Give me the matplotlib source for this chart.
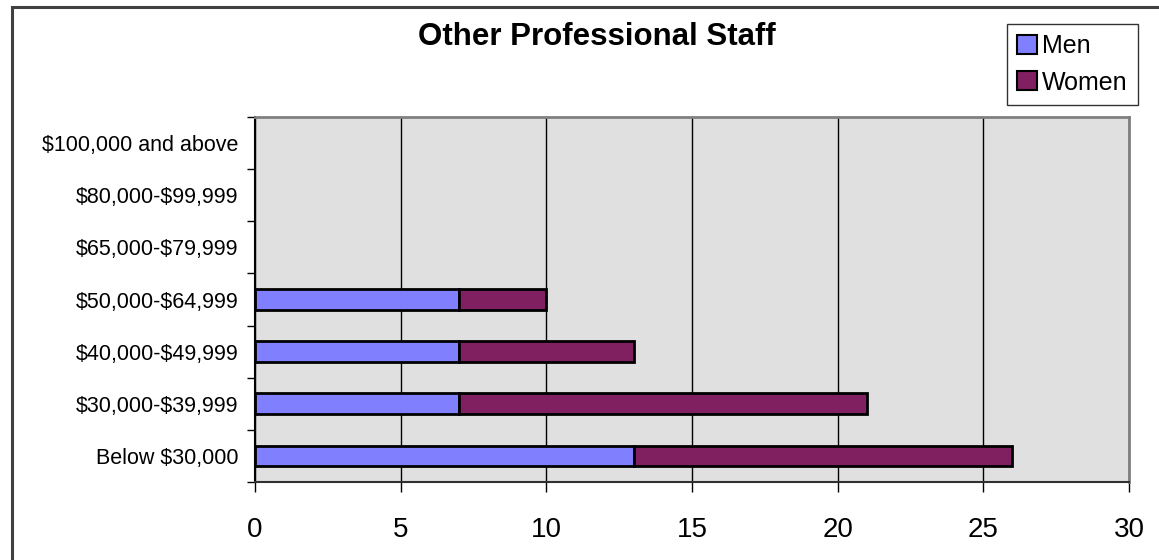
import matplotlib
matplotlib.use("Agg")
import matplotlib.pyplot as plt
from matplotlib.patches import Rectangle, Patch
import numpy as np

categories = ["Below $30,000", "$30,000-$39,999", "$40,000-$49,999",
              "$50,000-$64,999", "$65,000-$79,999", "$80,000-$99,999",
              "$100,000 and above"]
men = [13, 7, 7, 7, 0, 0, 0]
women = [13, 14, 6, 3, 0, 0, 0]
x_ticks = [0, 5, 10, 15, 20, 25, 30]
title = "Other Professional Staff"

plt.rcParams['font.family'] = ['Liberation Sans', 'DejaVu Sans']
plt.rcParams['text.parse_math'] = False

W, H = 1159, 560
fig = plt.figure(figsize=(W / 100, H / 100), dpi=100)
fig.patch.set_facecolor('white')

# outer chart border (right/bottom run off the image)
fig.patches.append(Rectangle((11.5 / W, -0.2), 2.0, 1.2 - 6.5 / H,
                             transform=fig.transFigure, fill=False,
                             edgecolor='#404040', linewidth=2.2, zorder=0))

left, right, top, bottom = 255, 1129, 117, 482
ax = fig.add_axes([left / W, 1 - bottom / H, (right - left) / W, (bottom - top) / H])
ax.set_facecolor('#E0E0E0')

y = np.arange(len(categories))
men_lw = [2 if v > 0 else 0 for v in men]
women_lw = [2 if v > 0 else 0 for v in women]
ax.barh(y, men, height=0.4, color='#8080FF', edgecolor='black', linewidth=men_lw,
        label='Men', zorder=3)
ax.barh(y, women, left=men, height=0.4, color='#802060', edgecolor='black',
        linewidth=women_lw, label='Women', zorder=3)

ax.set_xlim(0, 30)
ax.set_ylim(-0.5, len(categories) - 0.5)
ax.set_xticks(x_ticks)
ax.set_xticklabels([str(t) for t in x_ticks], fontsize=20)
ax.tick_params(axis='x', direction='out', length=7.5, width=1, color='black', pad=18)

ax.set_yticks(np.arange(-0.5, len(categories), 1.0))
ax.set_yticklabels([])
ax.tick_params(axis='y', which='major', direction='out', length=5.5, width=1, color='black')
ax.set_yticks(y, minor=True)
ax.set_yticklabels(categories, minor=True, fontsize=15.5)
ax.tick_params(axis='y', which='minor', length=0, pad=12)

ax.xaxis.grid(True, color='black', linewidth=1)
ax.yaxis.grid(False)
ax.set_axisbelow(True)

ax.spines['left'].set_color('black')
ax.spines['left'].set_linewidth(1.5)
ax.spines['bottom'].set_color('#303030')
ax.spines['bottom'].set_linewidth(1.5)
ax.spines['top'].set_color('#808080')
ax.spines['top'].set_linewidth(2)
ax.spines['right'].set_color('#808080')
ax.spines['right'].set_linewidth(2)

fig.text(597 / W, 1 - 45 / H, title, ha='center', va='baseline',
         fontsize=22.5, fontweight='bold')

handles = [Patch(facecolor='#8080FF', edgecolor='black', linewidth=1.5),
           Patch(facecolor='#802060', edgecolor='black', linewidth=1.5)]
leg = fig.legend(handles, ['Men', 'Women'], loc='upper right',
                 bbox_to_anchor=(1138 / W, 1 - 24 / H), borderaxespad=0,
                 fontsize=18, frameon=True, fancybox=False, edgecolor='black',
                 handlelength=0.8, handleheight=0.8, handletextpad=0.2,
                 labelspacing=0.5, borderpad=0.4)
leg.get_frame().set_linewidth(1)

fig.savefig('out.png', dpi=100)
